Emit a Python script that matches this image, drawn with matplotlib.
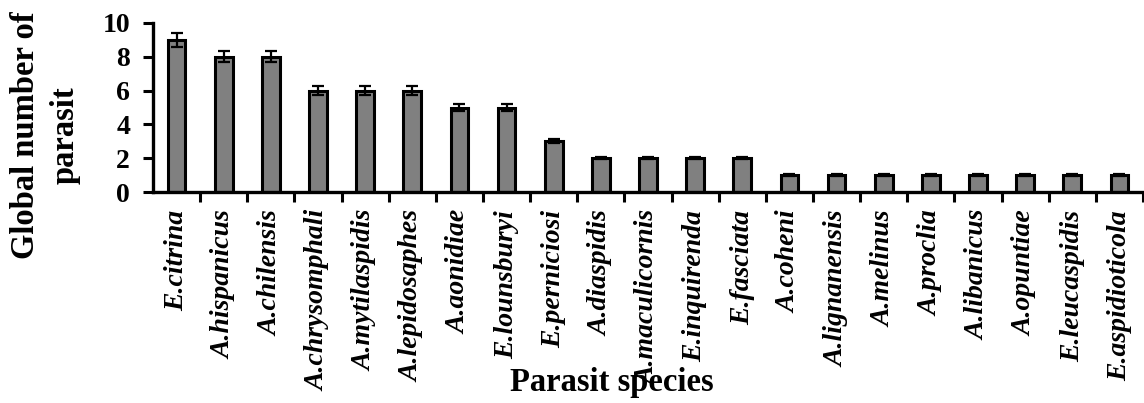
import numpy as np
import matplotlib
matplotlib.use('Agg')
import matplotlib.pyplot as plt

# Parasitoid species and how many times each one was recorded
species = [
    'E.citrina', 'A.hispanicus', 'A.chilensis', 'A.chrysomphali',
    'A.mytilaspidis', 'A.lepidosaphes', 'A.aonidiae', 'E.lounsburyi',
    'E.perniciosi', 'A.diaspidis', 'A.maculicornis', 'E.inquirenda',
    'E.fasciata', 'A.coheni', 'A.lignanensis', 'A.melinus', 'A.proclia',
    'A.libanicus', 'A.opuntiae', 'E.leucaspidis', 'E.aspidioticola',
]
counts = [9, 8, 8, 6, 6, 6, 5, 5, 3, 2, 2, 2, 2, 1, 1, 1, 1, 1, 1, 1, 1]
errors = [0.42, 0.32, 0.32, 0.28, 0.28, 0.28, 0.22, 0.22, 0.12, 0.05, 0.05,
          0.05, 0.05, 0.04, 0.04, 0.04, 0.04, 0.04, 0.04, 0.04, 0.04]
yticks = [0, 2, 4, 6, 8, 10]

plt.rcParams['font.family'] = 'Liberation Serif'

fig = plt.figure(figsize=(11.44, 4.03), dpi=100)
ax = fig.add_axes([153 / 1144, 1 - 192 / 403, 990 / 1144, 169 / 403])

ind = np.arange(len(species))
ax.bar(ind, counts, width=0.375, color='#808080', edgecolor='black',
       linewidth=2.2, yerr=errors, capsize=4.5,
       error_kw=dict(elinewidth=1.6, capthick=1.6, ecolor='black'))

ax.set_xlim(-0.5, len(species) - 0.5)
ax.set_ylim(0, 10)
ax.set_yticks(yticks)
ax.set_yticklabels([str(v) for v in yticks], fontsize=20, fontweight='bold')

# labels sit under the bars, tick marks sit between them
ax.set_xticks(ind)
ax.set_xticklabels(species, rotation=90, fontsize=20, fontstyle='italic',
                   fontweight='bold', va='top', ha='center')
ax.set_xticks(list(ind + 0.5), minor=True)
ax.tick_params(axis='x', which='major', length=0, pad=13)
ax.tick_params(axis='x', which='minor', direction='out', length=7, width=2.2)
ax.tick_params(axis='y', direction='out', length=7.5, width=2.2, pad=9)

for side in ['top', 'right']:
    ax.spines[side].set_visible(False)
for side in ['left', 'bottom']:
    ax.spines[side].set_linewidth(2.4)

fig.text(45 / 1144, 1 - 135 / 403, 'Global number of\nparasit', rotation=90,
         ha='center', va='center', multialignment='center', fontsize=23.5,
         fontweight='bold', linespacing=1.37)
fig.text(612 / 1144, 1 - 383 / 403, 'Parasit species', ha='center',
         va='center', fontsize=23.5, fontweight='bold')

fig.savefig('out.png', dpi=100)
